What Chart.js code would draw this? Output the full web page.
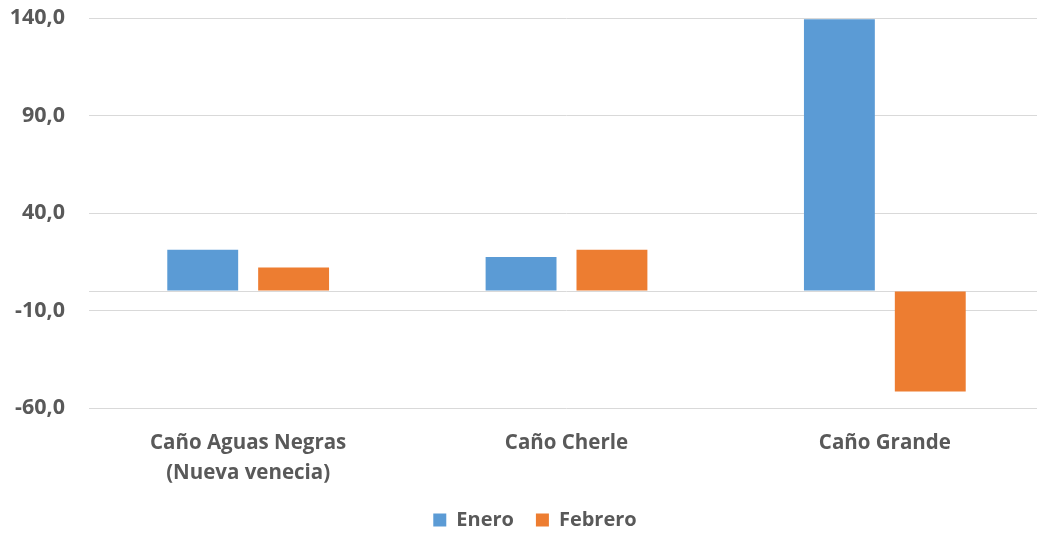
<!DOCTYPE html>
<html lang="es">
<head>
<meta charset="utf-8">
<title>Enero / Febrero por caño</title>
<script src="https://cdn.jsdelivr.net/npm/chart.js@4/dist/chart.umd.min.js"></script>
<style>
    html, body { margin: 0; padding: 0; background: #fff; overflow: hidden; }
    #wrap { width: 1045px; height: 533px; position: relative; }
</style>
</head>
<body>
<div id="wrap"><canvas id="chart"></canvas></div>
<script>
// Categorías y series
const categories = [
    ['Caño Aguas Negras', '(Nueva venecia)'],
    'Caño Cherle',
    'Caño Grande'
];
const enero = [21.2, 17.5, 139.4];
const febrero = [12.0, 21.2, -51.6];
const yTicks = [-60, -10, 0, 40, 90, 140];

const textColor = '#595959';
const gridColor = '#D9D9D9';
const fontFamily = "'Open Sans', 'DejaVu Sans', sans-serif";

function formatTick(value) {
    if (value === 0) return '';
    return new Intl.NumberFormat('es-AR', { minimumFractionDigits: 1, maximumFractionDigits: 1 }).format(value);
}

// la leyenda va un poco a la derecha del centro del lienzo
const legendShift = {
    id: 'legendShift',
    afterLayout(chart) {
        if (chart.legend) {
            chart.legend.left += 13;
            chart.legend.right += 13;
        }
    }
};

const ctx = document.getElementById('chart').getContext('2d');
new Chart(ctx, {
    type: 'bar',
    data: {
        labels: categories,
        datasets: [
            {
                label: 'Enero',
                data: enero,
                backgroundColor: '#5B9BD5',
                barPercentage: 0.78,
                categoryPercentage: 0.571
            },
            {
                label: 'Febrero',
                data: febrero,
                backgroundColor: '#ED7D31',
                barPercentage: 0.78,
                categoryPercentage: 0.571
            }
        ]
    },
    options: {
        responsive: true,
        maintainAspectRatio: false,
        animation: false,
        layout: {
            padding: { top: 18, right: 1, bottom: -7, left: 0 }
        },
        plugins: {
            tooltip: { enabled: false },
            legend: {
                position: 'bottom',
                labels: {
                    color: textColor,
                    font: { family: fontFamily, size: 20, weight: 'bold' },
                    boxWidth: 13,
                    boxHeight: 13,
                    padding: 22
                }
            }
        },
        scales: {
            x: {
                grid: { display: false },
                border: { display: false },
                ticks: {
                    color: textColor,
                    font: { family: fontFamily, size: 20.5, weight: 'bold', lineHeight: 1.42 },
                    padding: 13,
                    maxRotation: 0
                },
                afterFit: (scale) => { scale.height = 80; }
            },
            y: {
                min: -60,
                max: 140,
                afterBuildTicks: (scale) => {
                    scale.ticks = yTicks.map(v => ({ value: v }));
                },
                grid: {
                    color: gridColor,
                    lineWidth: 1,
                    drawTicks: false
                },
                border: { display: false },
                ticks: {
                    color: textColor,
                    font: { family: fontFamily, size: 21.5, weight: 'bold' },
                    padding: 24,
                    callback: (value) => formatTick(value)
                },
                afterFit: (scale) => {
                    scale.width = 89;
                    scale.paddingTop = 0;
                    scale.paddingBottom = 0;
                }
            }
        }
    },
    plugins: [legendShift]
});
</script>
</body>
</html>
